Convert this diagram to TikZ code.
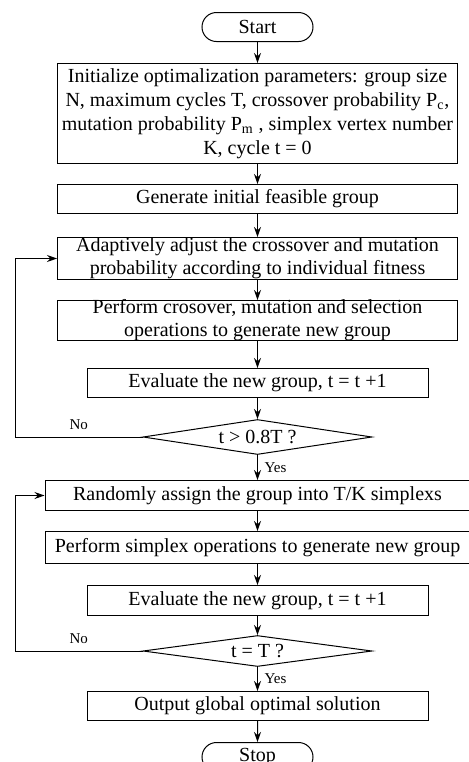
\documentclass[tikz,border=0pt]{standalone}
\usepackage{fontspec}
\setmainfont{Liberation Serif}
\usetikzlibrary{shapes, arrows.meta, positioning}
\tikzstyle{startstop} = [rounded rectangle, minimum width=57.5pt, minimum height=14.5pt, inner sep=1pt, text centered, draw=black]
\tikzstyle{process} = [rectangle, minimum width=200pt, minimum height=14.5pt, inner xsep=2pt, inner ysep=0pt, align=center, draw=black]
\tikzstyle{twoline} = [font=\fontsize{10}{11.5}\selectfont, inner ysep=-1.5pt]
\tikzstyle{decision} = [diamond, aspect=6.5, inner sep=0pt, minimum width=114.5pt, minimum height=17.5pt, draw=black]
\tikzstyle{lbl} = [font=\fontsize{7.5}{9}\selectfont]
\tikzstyle{arrow} = [->,>={Stealth[length=5pt,width=3.5pt]}]

\begin{document}
\begin{tikzpicture}[node distance=10pt, line width=0.5pt, font=\fontsize{10}{12}\selectfont]
\useasboundingbox (0,0) rectangle (234pt,-381pt);

% Nodes
\node (start) [startstop] at (128.75pt,-13.5pt) {Start};
\node (init) [process, minimum height=50pt, below=10.5pt of start] {Initialize optimalization parameters: group size\\ N, maximum cycles T, crossover probability P\textsubscript{c},\\ mutation probability P\textsubscript{m} , simplex vertex number\\ K, cycle t = 0};
\node (initGroup) [process, below=of init] {Generate initial feasible group};
\node (adapt) [process, twoline, minimum height=21pt, below=11.5pt of initGroup] {Adaptively adjust the crossover and mutation\\ probability according to individual fitness};
\node (genOps) [process, twoline, minimum height=20pt, below=of adapt] {Perform crosover, mutation and selection\\ operations to generate new group};
\node (eval) [process, minimum width=170.5pt, below=13.5pt of genOps] {Evaluate the new group, t = t +1};
\node (check) [decision, below=10.5pt of eval] {t > 0.8T ?};
\node (assign) [process, minimum width=212.5pt, minimum height=15pt, below=12.5pt of check] {Randomly assign the group into T/K simplexs};
\node (simplexOps) [process, minimum width=212.5pt, minimum height=16pt, below=of assign] {Perform simplex operations to generate new group};
\node (evalB) [process, minimum width=170.5pt, minimum height=15pt, below=10.5pt of simplexOps] {Evaluate the new group, t = t +1};
\node (checkB) [decision, minimum height=15.5pt, below=9.5pt of evalB] {t = T ?};
\node (output) [process, minimum width=170.5pt, below=12pt of checkB] {Output global optimal solution};
\node (stop) [startstop, below=10.5pt of output] {Stop};
\coordinate (leftLine) at (7.5pt,0);

% Arrows
\draw [arrow] (start) -- (init);
\draw [arrow] (init) -- (initGroup);
\draw [arrow] (initGroup) -- (adapt);
\draw [arrow] (adapt) -- (genOps);
\draw [arrow] (genOps) -- (eval);
\draw [arrow] (eval) -- (check);
\draw [arrow] (check) -- node[lbl, right] {Yes} (assign);
\draw [arrow] (assign) -- (simplexOps);
\draw [arrow] (simplexOps) -- (evalB);
\draw [arrow] (evalB) -- (checkB);
\draw [arrow] (checkB) -- node[lbl, right] {Yes} (output);
\draw [arrow] (output) -- (stop);

% Loop back arrows
\draw [arrow] (check.west) -- node[lbl, above] {No} (check.west -| leftLine) |- (adapt.west);
\draw [arrow] (checkB.west) -- node[lbl, above] {No} (checkB.west -| leftLine) |- (assign.west);

\end{tikzpicture}
\end{document}
